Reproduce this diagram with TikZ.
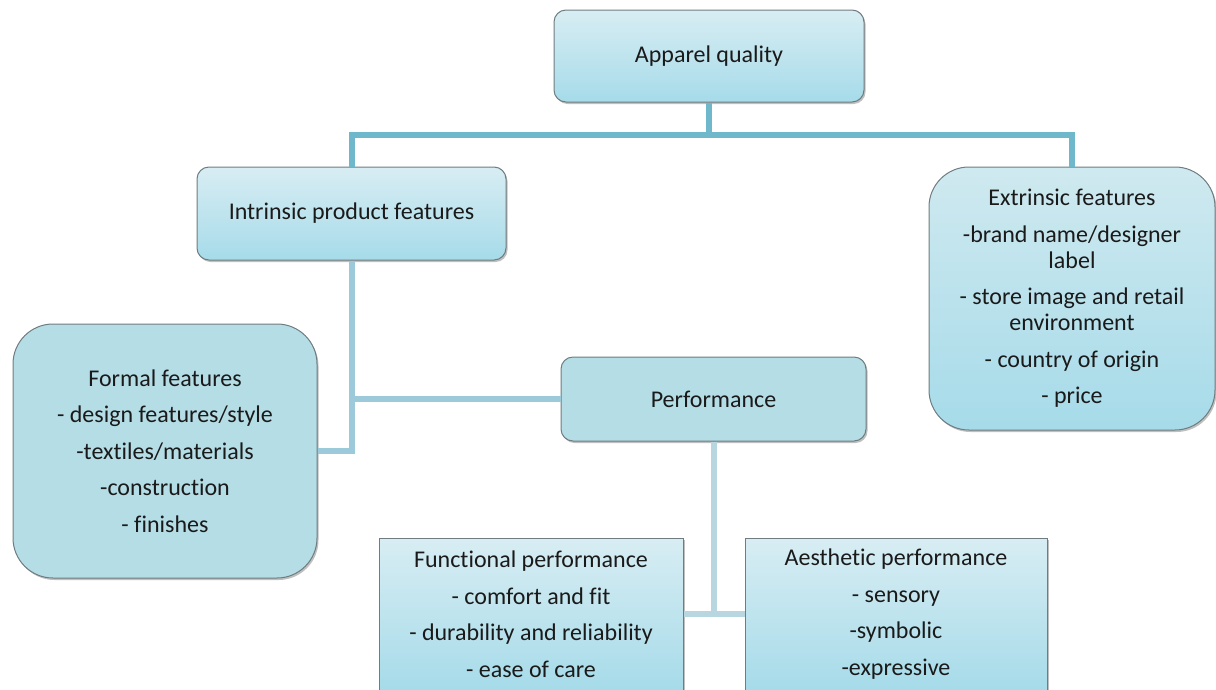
\documentclass[tikz,border=0pt]{standalone}
\usepackage{fontspec}
\setmainfont[Ligatures=NoCommon]{Carlito}
\usetikzlibrary{shadows,shadings}

\definecolor{boxtop}{HTML}{D8EDF3}
\definecolor{boxbot}{HTML}{A6DBE9}
\definecolor{boxflat}{HTML}{B5DDE6}
\definecolor{boxedge}{HTML}{6F7C80}
\definecolor{linkdark}{HTML}{6FB7CA}
\definecolor{linkmid}{HTML}{9CCADA}
\definecolor{linklight}{HTML}{B7D6E0}
\definecolor{inktext}{HTML}{1A1A1A}

\tikzset{
  basebox/.style={draw=boxedge, line width=1pt, align=center, text=inktext,
    inner sep=0pt, font=\fontsize{24}{26}\selectfont,
    drop shadow={shadow xshift=1.5pt, shadow yshift=-2pt, opacity=0.25, fill=black}},
  gradbox/.style={basebox, top color=boxtop, bottom color=boxbot},
  flatbox/.style={basebox, fill=boxflat},
  smallround/.style={rounded corners=12pt},
  biground/.style={rounded corners=40pt},
  link/.style={line width=6pt},
}

\begin{document}
\begin{tikzpicture}[x=1pt,y=-1pt]
\useasboundingbox (0,0) rectangle (1216,689);

% hierarchy boxes
\node[gradbox, smallround, minimum width=310pt, minimum height=92pt] (aq) at (709,56) {Apparel quality};
\node[gradbox, smallround, minimum width=309pt, minimum height=93pt] (intr) at (351.5,213.5) {Intrinsic product features};
\node[basebox, biground, top color=boxtop!75!boxflat, bottom color=boxbot, minimum width=286pt, minimum height=263pt] (extr) at (1072,298.5)
  {Extrinsic features\\[10.5pt]-brand name/designer\\label\\[10.5pt]- store image and retail\\environment\\[10.5pt]- country of origin\\[10.5pt]- price};
\node[flatbox, biground, minimum width=304pt, minimum height=254pt] (formal) at (165,451)
  {Formal features\\[10.5pt]- design features/style\\[10.5pt]-textiles/materials\\[10.5pt]-construction\\[10.5pt]- finishes};
\node[flatbox, smallround, minimum width=305pt, minimum height=84pt] (perf) at (713.5,399) {Performance};
\node[gradbox, minimum width=304pt, minimum height=152pt] (func) at (531,614)
  {Functional performance\\[10.5pt]- comfort and fit\\[10.5pt]- durability and reliability\\[10.5pt]- ease of care};
\node[gradbox, minimum width=302pt, minimum height=152pt] (aes) at (896,614)
  {Aesthetic performance\\[10.5pt]- sensory\\[10.5pt]-symbolic\\[10.5pt]-expressive};

% connectors
\coordinate (hub) at (709,135);
\draw[link, linkdark] (aq.south) -- (hub);
\draw[link, linkdark] (intr.north) |- (hub) -| (extr.north);
\draw[link, linkmid] (intr.south) |- (perf.west);
\draw[link, linkmid] (intr.south) |- (formal.east);
\draw[link, linklight] (perf.south) |- (func.east);
\draw[link, linklight] (perf.south) |- (aes.west);
\end{tikzpicture}
\end{document}
